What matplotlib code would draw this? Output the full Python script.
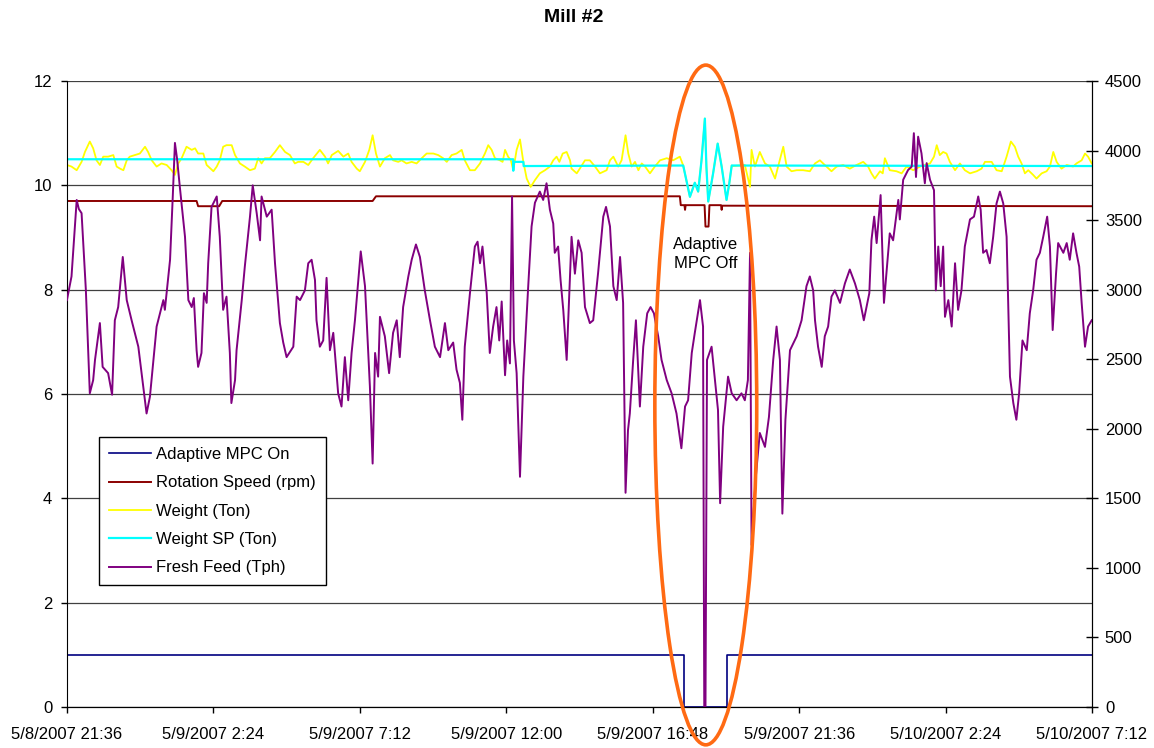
import matplotlib
matplotlib.use("Agg")
import matplotlib.pyplot as plt
import matplotlib.dates as mdates
from matplotlib.patches import Ellipse
from matplotlib.ticker import FuncFormatter
import pandas as pd

plt.rcParams['font.family'] = ['Liberation Sans', 'DejaVu Sans']

START = pd.Timestamp("2007-05-08 21:36")

# Adaptive MPC On (0/1), hours from start
mpc_hours = [0, 20.22, 21.62, 33.6]
mpc_on = [1, 0, 1, 1]

# Rotation speed (rpm)
speed_hours = [0, 4.25, 4.30, 4.99, 5.09, 10.02, 10.13, 20.09, 20.12, 20.24, 20.26, 20.28,
               20.90, 20.93, 21.03, 21.06, 21.44, 21.46, 21.48, 33.6]
speed_rpm = [9.70, 9.70, 9.60, 9.60, 9.70, 9.70, 9.79, 9.79, 9.62, 9.62, 9.53, 9.62,
             9.62, 9.21, 9.21, 9.62, 9.62, 9.53, 9.61, 9.60]

# Weight (Ton)
weight_hours = [0.00, 0.15, 0.32, 0.48, 0.59, 0.75, 0.86, 0.97, 1.08, 1.19, 1.35, 1.52, 1.63, 1.74,
                1.85, 1.96, 2.06, 2.23, 2.39, 2.56, 2.66, 2.78, 2.94, 3.10, 3.27, 3.43, 3.54, 3.65,
                3.76, 3.92, 4.09, 4.20, 4.30, 4.47, 4.58, 4.80, 4.91, 5.01, 5.12, 5.23, 5.40, 5.51,
                5.67, 5.83, 6.00, 6.16, 6.27, 6.38, 6.49, 6.65, 6.82, 6.98, 7.15, 7.31, 7.47, 7.58,
                7.75, 7.91, 8.07, 8.29, 8.46, 8.56, 8.68, 8.89, 9.06, 9.22, 9.33, 9.50, 9.60, 9.77,
                9.91, 10.02, 10.13, 10.26, 10.42, 10.59, 10.69, 10.86, 10.97, 11.13, 11.30, 11.46,
                11.63, 11.79, 12.01, 12.17, 12.33, 12.45, 12.61, 12.77, 12.94, 13.04, 13.21, 13.37,
                13.54, 13.70, 13.81, 13.92, 14.03, 14.19, 14.28, 14.36, 14.46, 14.55, 14.63, 14.74,
                14.85, 14.96, 15.07, 15.20, 15.34, 15.50, 15.67, 15.83, 15.94, 16.05, 16.14, 16.25,
                16.38, 16.49, 16.54, 16.71, 16.81, 16.98, 17.14, 17.31, 17.47, 17.69, 17.80, 17.91,
                18.07, 18.18, 18.31, 18.40, 18.51, 18.62, 18.73, 18.84, 18.95, 19.11, 19.27, 19.44,
                19.66, 19.87, 20.09, 20.20, 20.42, 20.58, 20.69, 20.80, 20.91, 20.96, 21.02, 21.18,
                21.33, 21.46, 21.62, 21.71, 21.79, 21.84, 22.22, 22.39, 22.44, 22.55, 22.71, 22.88,
                23.04, 23.21, 23.31, 23.48, 23.59, 23.75, 23.92, 24.13, 24.35, 24.52, 24.68, 24.84,
                25.06, 25.23, 25.44, 25.66, 25.88, 26.10, 26.26, 26.37, 26.48, 26.65, 26.74, 26.81,
                26.97, 27.19, 27.36, 27.52, 27.74, 27.96, 28.29, 28.42, 28.51, 28.61, 28.72, 28.83,
                28.94, 29.11, 29.27, 29.43, 29.60, 29.82, 29.98, 30.09, 30.31, 30.47, 30.64, 30.80,
                30.94, 31.07, 31.18, 31.29, 31.40, 31.51, 31.67, 31.78, 31.95, 32.11, 32.22, 32.33,
                32.44, 32.60, 32.77, 32.98, 33.09, 33.26, 33.37, 33.47, 33.59]
weight_ton = [10.39, 10.36, 10.29, 10.45, 10.64, 10.84, 10.71, 10.48, 10.39, 10.55, 10.55, 10.58, 10.36, 10.32,
              10.29, 10.48, 10.55, 10.58, 10.61, 10.74, 10.64, 10.48, 10.36, 10.42, 10.39, 10.29, 10.20, 10.42,
              10.52, 10.74, 10.68, 10.71, 10.61, 10.61, 10.39, 10.27, 10.36, 10.48, 10.74, 10.77, 10.77, 10.58,
              10.42, 10.36, 10.29, 10.32, 10.52, 10.42, 10.52, 10.52, 10.64, 10.77, 10.64, 10.58, 10.42, 10.45,
              10.45, 10.39, 10.52, 10.68, 10.55, 10.42, 10.58, 10.66, 10.55, 10.61, 10.45, 10.32, 10.27, 10.45,
              10.68, 10.96, 10.61, 10.36, 10.52, 10.58, 10.48, 10.45, 10.48, 10.42, 10.45, 10.42,
              10.52, 10.61, 10.61, 10.58, 10.52, 10.45, 10.58, 10.61, 10.68, 10.48, 10.29, 10.29,
              10.42, 10.61, 10.77, 10.68, 10.52, 10.48, 10.45, 10.68, 10.55, 10.48, 10.29, 10.68,
              10.88, 10.45, 10.13, 9.97, 10.10, 10.23, 10.29, 10.36, 10.48, 10.55, 10.45, 10.61,
              10.64, 10.48, 10.32, 10.23, 10.32, 10.48, 10.48, 10.36, 10.23, 10.29, 10.48, 10.55,
              10.36, 10.48, 10.96, 10.61, 10.36, 10.45, 10.29, 10.42, 10.36, 10.23, 10.36, 10.48,
              10.52, 10.48, 10.55, 10.38, 9.78, 10.05, 9.88, 10.48, 11.28, 10.36, 9.69, 10.23,
              10.80, 10.36, 9.72, 10.04, 10.38, 10.37, 10.39, 9.97, 10.68, 10.36, 10.64, 10.42,
              10.36, 10.13, 10.36, 10.74, 10.36, 10.27, 10.29, 10.29, 10.27, 10.42, 10.48, 10.39,
              10.27, 10.36, 10.39, 10.32, 10.39, 10.45, 10.36, 10.23, 10.13, 10.27, 10.23, 10.52,
              10.29, 10.27, 10.23, 10.36, 10.29, 10.36, 10.42, 10.55, 10.77, 10.58, 10.64, 10.61,
              10.45, 10.29, 10.42, 10.29, 10.23, 10.27, 10.32, 10.45, 10.45, 10.29, 10.27, 10.55,
              10.84, 10.74, 10.55, 10.42, 10.23, 10.29, 10.20, 10.13, 10.23, 10.27, 10.36, 10.64,
              10.45, 10.32, 10.39, 10.36, 10.42, 10.48, 10.61, 10.55, 10.42]

# Weight SP (Ton)
sp_hours = [0, 14.63, 14.63, 14.64, 14.96, 14.97, 20.20, 20.42, 20.58, 20.69, 20.80, 20.91,
            20.96, 21.02, 21.18, 21.33, 21.46, 21.62, 21.71, 21.79, 33.6]
sp_ton = [10.50, 10.50, 10.28, 10.45, 10.45, 10.37, 10.38, 9.78, 10.05, 9.88, 10.48, 11.28,
          10.36, 9.69, 10.23, 10.80, 10.36, 9.72, 10.04, 10.38, 10.37]

# Fresh Feed (Tph)
feed_hours = [0.00, 0.15, 0.32, 0.39, 0.48, 0.62, 0.75, 0.86, 0.92, 1.08, 1.17, 1.35, 1.48, 1.57,
              1.68, 1.83, 1.96, 2.12, 2.34, 2.49, 2.61, 2.72, 2.94, 3.05, 3.16, 3.21, 3.38, 3.47,
              3.54, 3.61, 3.70, 3.87, 3.98, 4.09, 4.16, 4.25, 4.30, 4.41, 4.49, 4.58, 4.63, 4.74,
              4.91, 5.01, 5.12, 5.23, 5.34, 5.39, 5.51, 5.56, 5.73, 5.83, 6.00, 6.09, 6.22, 6.33,
              6.38, 6.55, 6.71, 6.82, 6.98, 7.09, 7.20, 7.42, 7.53, 7.64, 7.80, 7.91, 8.02, 8.13,
              8.18, 8.29, 8.40, 8.51, 8.62, 8.73, 8.89, 9.00, 9.11, 9.22, 9.33, 9.44, 9.63, 9.77,
              9.93, 10.02, 10.10, 10.20, 10.26, 10.42, 10.56, 10.69, 10.81, 10.91, 11.02, 11.19,
              11.30, 11.44, 11.57, 11.73, 11.90, 12.06, 12.23, 12.39, 12.50, 12.66, 12.77, 12.88,
              12.96, 13.04, 13.21, 13.37, 13.46, 13.54, 13.62, 13.76, 13.86, 13.97, 14.08, 14.17,
              14.25, 14.36, 14.43, 14.52, 14.59, 14.65, 14.74, 14.85, 14.96, 15.12, 15.23, 15.34,
              15.50, 15.61, 15.72, 15.83, 15.94, 15.99, 16.10, 16.18, 16.27, 16.38, 16.54, 16.65,
              16.76, 16.87, 16.98, 17.14, 17.25, 17.41, 17.58, 17.67, 17.80, 17.91, 18.02, 18.13,
              18.23, 18.31, 18.39, 18.45, 18.56, 18.65, 18.78, 18.89, 19.02, 19.13, 19.24, 19.38,
              19.49, 19.66, 19.82, 19.98, 20.14, 20.26, 20.36, 20.48, 20.58, 20.75, 20.85, 20.89,
              20.93, 20.98, 21.13, 21.24, 21.34, 21.41, 21.51, 21.67, 21.79, 21.95, 22.11, 22.22,
              22.32, 22.39, 22.44, 22.58, 22.71, 22.88, 23.01, 23.15, 23.26, 23.37, 23.45, 23.55,
              23.70, 23.92, 24.08, 24.24, 24.35, 24.46, 24.52, 24.62, 24.74, 24.84, 24.95, 25.06,
              25.17, 25.34, 25.50, 25.66, 25.83, 25.99, 26.12, 26.30, 26.37, 26.46, 26.54, 26.67,
              26.78, 26.87, 26.97, 27.08, 27.25, 27.30, 27.41, 27.57, 27.69, 27.76, 27.83, 27.90,
              28.01, 28.12, 28.18, 28.29, 28.42, 28.48, 28.56, 28.64, 28.72, 28.78, 28.89, 29.00,
              29.11, 29.21, 29.32, 29.43, 29.60, 29.73, 29.87, 29.95, 30.03, 30.14, 30.25, 30.36,
              30.47, 30.58, 30.69, 30.80, 30.91, 31.02, 31.12, 31.21, 31.32, 31.46, 31.56, 31.67,
              31.78, 31.89, 32.00, 32.13, 32.22, 32.31, 32.42, 32.49, 32.66, 32.77, 32.87, 32.98,
              33.09, 33.18, 33.26, 33.37, 33.47, 33.59]
feed_tph = [2925, 3095, 3645, 3580, 3550, 3000, 2255, 2350, 2495, 2760, 2445, 2400, 2245, 2780,
            2875, 3235, 2925, 2780, 2590, 2325, 2110, 2230, 2735, 2830, 2925, 2855, 3215, 3675,
            4055, 3940, 3740, 3380, 2925, 2875, 2940, 2565, 2445, 2545, 2975, 2905, 3190, 3595,
            3670, 3380, 2855, 2950, 2545, 2185, 2350, 2565, 2925, 3165, 3525, 3750, 3550, 3355,
            3670, 3525, 3575, 3190, 2760, 2620, 2515, 2590, 2950, 2925, 2995, 3190, 3215, 3070,
            2780, 2590, 2635, 3085, 2565, 2690, 2255, 2160, 2515, 2205, 2545, 2780, 3275, 3025,
            2305, 1750, 2545, 2375, 2805, 2665, 2400, 2690, 2780, 2515, 2875, 3095,
            3215, 3325, 3235, 2995, 2780, 2590, 2515, 2760, 2565, 2620, 2425, 2330,
            2065, 2590, 2975, 3310, 3345, 3190, 3310, 2975, 2545, 2735, 2875, 2635,
            2915, 2385, 2635, 2470, 3670, 2635, 2400, 1655, 2375, 3025, 3455, 3625,
            3705, 3645, 3765, 3575, 3475, 3265, 3310, 3070, 2850, 2495, 3380, 3115,
            3355, 3265, 2875, 2760, 2780, 3120, 3525, 3595, 3455, 3025, 2925, 3235,
            2905, 1540, 1990, 2110, 2495, 2780, 2160, 2590, 2830, 2875, 2830, 2665,
            2495, 2350, 2255, 2110, 1860, 2160, 2205, 2545, 2690, 2925, 2735, 0,
            0, 2495, 2590, 2350, 2135, 1465, 2015, 2375, 2255, 2205, 2255, 2205,
            2350, 3265, 1165, 1655, 1970, 1870, 2085, 2495, 2735, 2495, 1390, 2065,
            2565, 2665, 2780, 3025, 3095, 2995, 2780, 2590, 2445, 2665, 2735, 2950,
            2995, 2905, 3045, 3145, 3045, 2925, 2780, 2975, 3355, 3525, 3335, 3680,
            2905, 3145, 3405, 3355, 3645, 3505, 3790, 3860, 3885, 4125, 3810, 4100,
            3980, 3765, 3910, 3790, 3715, 2995, 3310, 3025, 3310, 2805, 2925, 2735,
            3190, 2855, 2995, 3310, 3505, 3525, 3670, 3575, 3265, 3285, 3190, 3380,
            3620, 3705, 3620, 3380, 2375, 2185, 2065, 2255, 2635, 2565, 2830, 2995,
            3215, 3265, 3380, 3525, 3310, 2710, 3115, 3335, 3265, 3335, 3215, 3405,
            3265, 3165, 2905, 2590, 2735, 2780]


def to_time(hours):
    return START + pd.to_timedelta(hours, unit='h')


fig = plt.figure(figsize=(11.54, 7.48), dpi=100)
ax = fig.add_axes([0.058, 0.0548, 0.8883, 0.8369])
ax2 = ax.twinx()

l_mpc, = ax.plot(to_time(mpc_hours), mpc_on, color='#000080', lw=1.2,
                 drawstyle='steps-post', label='Adaptive MPC On')
l_speed, = ax.plot(to_time(speed_hours), speed_rpm, color='#8B0000', lw=1.4,
                   label='Rotation Speed (rpm)')
l_weight, = ax.plot(to_time(weight_hours), weight_ton, color='#FFFF00', lw=1.3,
                    label='Weight (Ton)')
l_sp, = ax.plot(to_time(sp_hours), sp_ton, color='#00FFFF', lw=1.6,
                label='Weight SP (Ton)')
l_feed, = ax2.plot(to_time(feed_hours), feed_tph, color='#800080', lw=1.4,
                   label='Fresh Feed (Tph)')

xmin, xmax = START, START + pd.Timedelta(hours=33.6)
ax.set_xlim(xmin, xmax)
ax.set_ylim(0, 12)
ax2.set_ylim(0, 4500)
ax.set_yticks(range(0, 13, 2))
ax2.set_yticks(range(0, 4501, 500))
ax.set_xticks(pd.date_range(xmin, periods=8, freq='288min'))
ax.xaxis.set_major_formatter(FuncFormatter(
    lambda v, p: (lambda d: f"{d.month}/{d.day}/{d.year} {d.hour}:{d.minute:02d}")(mdates.num2date(v))))

ax.grid(axis='y', color='#404040', lw=0.9)
ax.set_axisbelow(True)
for a in (ax, ax2):
    a.spines['top'].set_visible(False)
    a.tick_params(labelsize=12, length=4, width=1)
ax2.spines['left'].set_visible(False)
ax.tick_params(axis='y', pad=6.5)
ax2.tick_params(axis='y', direction='inout', length=8.5, pad=5)
ax.tick_params(axis='x', pad=10.5)

# highlight the period when adaptive MPC is off
cx = mdates.date2num(START + pd.Timedelta(hours=20.94))
ring = Ellipse((cx, 5.79), width=3.34 / 24, height=13.03, fill=False,
               edgecolor='#FF6A13', lw=2.6, transform=ax.transData, clip_on=False, zorder=10)
ax2.add_patch(ring)
ax2.text(cx, 8.68, "Adaptive\nMPC Off", transform=ax.transData, ha='center', va='center',
         fontsize=12, linespacing=1.3, zorder=11)

leg = ax2.legend(handles=[l_mpc, l_speed, l_weight, l_sp, l_feed], loc='upper left',
                 bbox_to_anchor=(0.0312, 0.4313), borderaxespad=0, fontsize=12,
                 fancybox=False, edgecolor='black', framealpha=1, handlelength=2.55,
                 handletextpad=0.3, borderpad=0.6, labelspacing=0.8)
leg.get_frame().set_linewidth(1)

fig.suptitle("Mill #2", fontsize=14, fontweight='bold', x=0.497, y=0.977, va='center')

fig.savefig("out.png", dpi=100)
